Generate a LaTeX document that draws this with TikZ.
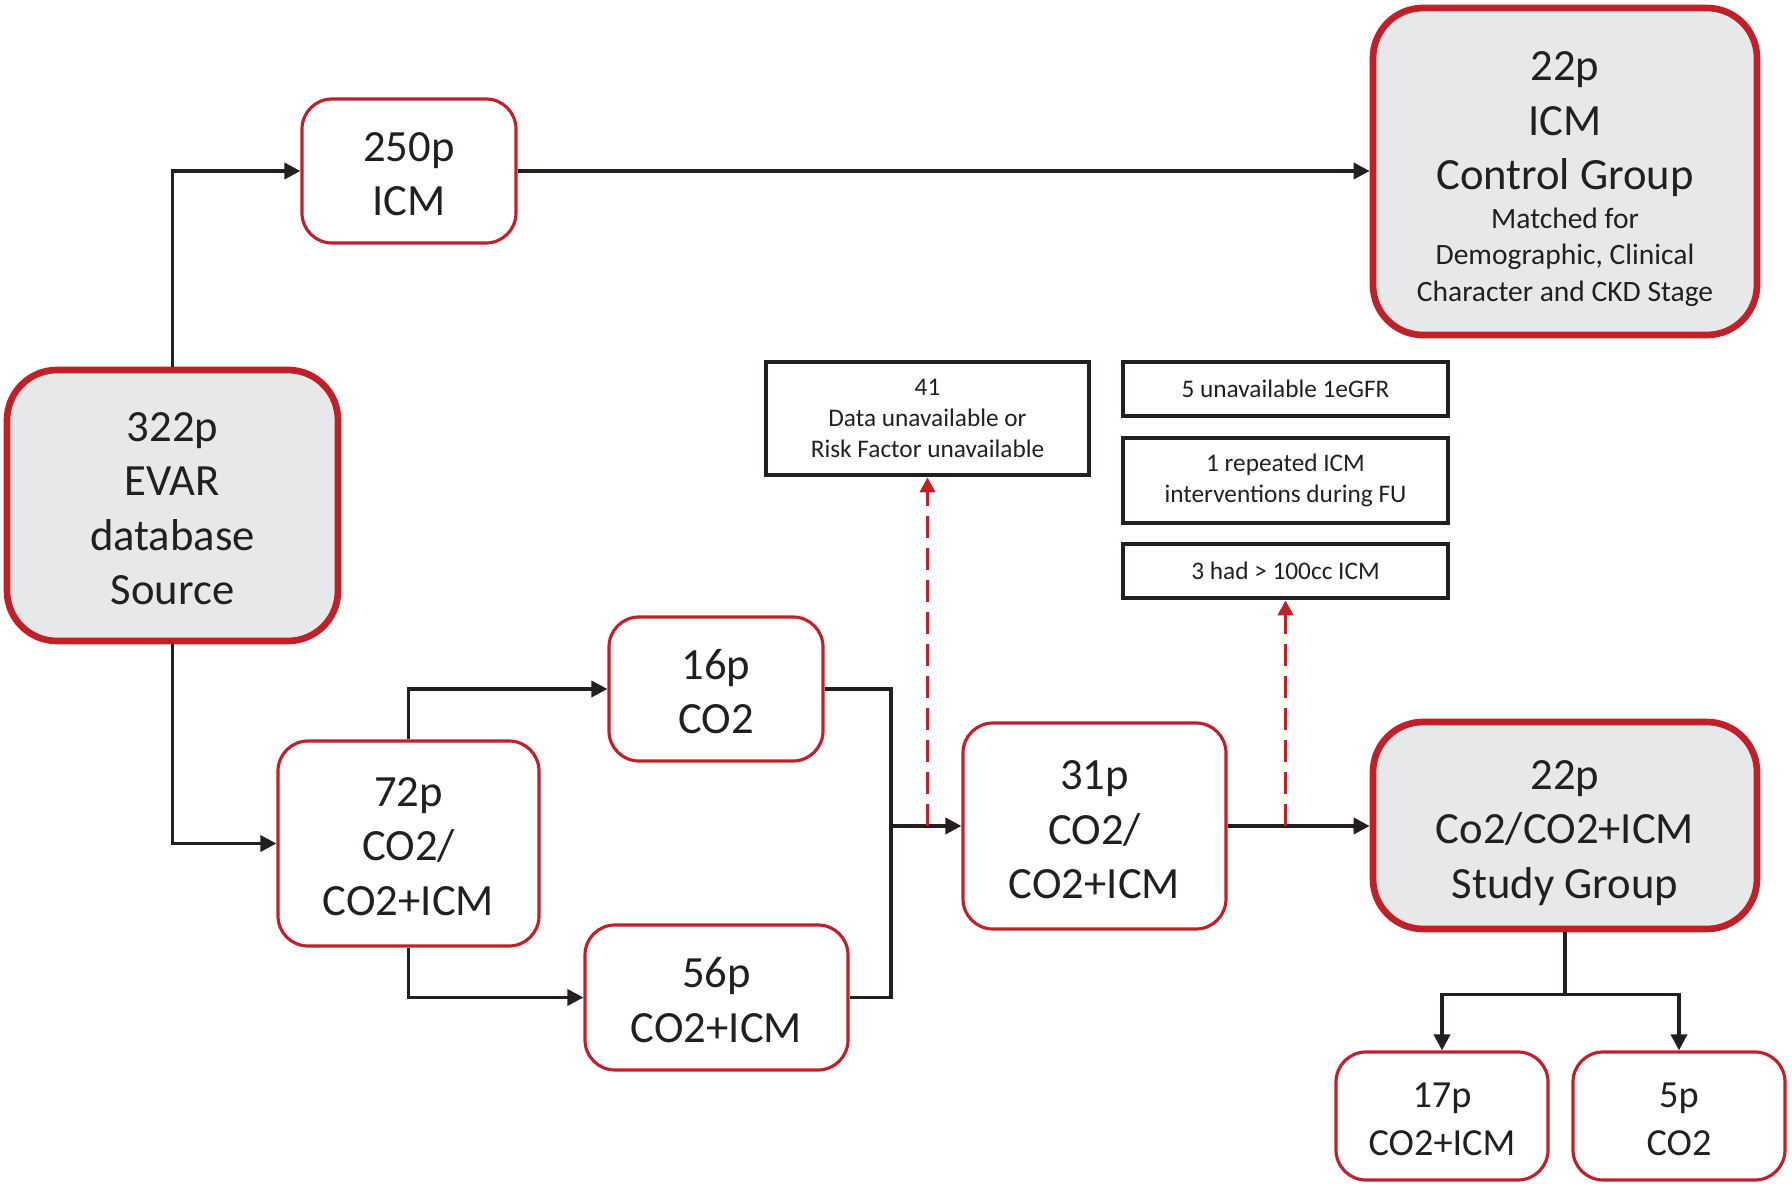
\documentclass[tikz,border=0pt]{standalone}
\usepackage{fontspec}
\setmainfont{Carlito}
\usetikzlibrary{arrows.meta,calc,positioning}
\definecolor{boxred}{RGB}{193,32,40}
\definecolor{boxgray}{RGB}{231,232,233}
\definecolor{ink}{RGB}{35,31,32}
\newcommand{\smalltxt}{\fontsize{8.4}{10.3}\selectfont}

\begin{document}
\begin{tikzpicture} [{grp/.style={rectangle,rounded corners=0.3cm,draw=boxred,line width=0.9pt,fill=white,align=center,inner sep=0pt,text=ink,font=\fontsize{12.7}{15.5}\selectfont}},{main/.style={grp,rounded corners=0.5cm,line width=1.9pt,fill=boxgray}},{sub/.style={grp,font=\fontsize{10.9}{13.6}\selectfont}},{note/.style={rectangle,draw=ink,line width=1.3pt,align=center,inner sep=0pt,text=ink,font=\fontsize{7.2}{8.7}\selectfont}},{conn/.style={draw=ink,line width=1pt,-{Triangle[length=1.6mm,width=1.6mm]}}},{dashline/.style={draw=boxred,line width=1.1pt,dash pattern=on 2.2mm off 1mm,-{Triangle[length=1.5mm,width=1.5mm]}}}]
	\useasboundingbox (0,0) rectangle (17.92,-11.87);
	%%source and control arm
	\node [main,minimum width=3.31cm,minimum height=2.71cm] (src) at (1.725,-5.055) {\rule{0pt}{10pt}322p\\EVAR\\database\\Source};
	\node [grp,minimum width=2.14cm,minimum height=1.44cm] (icm) at (4.09,-1.71) {\rule{0pt}{10pt}250p\\ICM};
	\node [main,minimum width=3.84cm,minimum height=3.27cm] (ctrl) at (15.65,-1.715) {\rule{0pt}{12.5pt}22p\\ICM\\Control Group\\[-4.4pt]{\smalltxt Matched for}\\[-5.2pt]{\smalltxt Demographic, Clinical}\\[-5.2pt]{\smalltxt Character and CKD Stage}};
	%%study arm
	\node [grp,minimum width=2.61cm,minimum height=2.05cm] (mix) at (4.085,-8.435) {\rule{0pt}{10pt}72p\\CO2/\\CO2+ICM};
	\node [grp,minimum width=2.14cm,minimum height=1.44cm] (co) at (7.16,-6.89) {\rule{0pt}{10pt}16p\\CO2};
	\node [grp,minimum width=2.63cm,minimum height=1.45cm] (coicm) at (7.165,-9.975) {\rule{0pt}{10pt}56p\\CO2+ICM};
	\node [grp,minimum width=2.63cm,minimum height=2.06cm] (sel) at (10.945,-8.26) {\rule{0pt}{10.5pt}31p\\CO2/\\CO2+ICM};
	\node [main,minimum width=3.84cm,minimum height=2.07cm] (study) at (15.65,-8.255) {\rule{0pt}{12.5pt}22p\\Co2/CO2+ICM\\Study Group};
	\node [sub,minimum width=2.12cm,minimum height=1.28cm] (sub1) at (14.42,-11.16) {\rule{0pt}{9pt}17p\\CO2+ICM};
	\node [sub,minimum width=2.12cm,minimum height=1.28cm] (sub2) at (16.79,-11.16) {\rule{0pt}{9pt}5p\\CO2};
	%%exclusions
	\node [note,minimum width=3.23cm,minimum height=1.13cm] (excl) at (9.275,-4.185) {41\\Data unavailable or\\Risk Factor unavailable};
	\node [note,minimum width=3.25cm,minimum height=0.54cm] (egfr) at (12.855,-3.89) {5 unavailable 1eGFR};
	\node [note,minimum width=3.25cm,minimum height=0.85cm] (rep) at (12.855,-4.805) {1 repeated ICM\\interventions during FU};
	\node [note,minimum width=3.25cm,minimum height=0.54cm] (vol) at (12.855,-5.71) {3 had > 100cc ICM};
	%%junctions
	\coordinate (j) at (8.91,-8.26);
	\coordinate (split) at ($(study.south)+(0,-0.62)$);
	\coordinate (d1) at (excl.south |- sel.west);
	\coordinate (d2) at (vol.south |- sel.east);
	%%connectors
	\draw [conn] (src.north) |- (icm.west);
	\draw [conn] (icm.east) -- (icm.east -| ctrl.west);
	\draw [conn] (src.south) |- (mix.west);
	\draw [conn] (mix.north) |- (co.west);
	\draw [conn] (mix.south) |- (coicm.west);
	\draw [draw=ink,line width=1pt] (co.east) -| (j) |- (coicm.east);
	\draw [conn] (j) -- (sel.west);
	\draw [conn] (sel.east) -- (sel.east -| study.west);
	\draw [draw=ink,line width=1pt] (study.south) -- (split);
	\draw [conn] (split) -| (sub1.north);
	\draw [conn] (split) -| (sub2.north);
	\draw [dashline] (d1) -- (excl.south);
	\draw [dashline] (d2) -- (vol.south);
\end{tikzpicture}
\end{document}
